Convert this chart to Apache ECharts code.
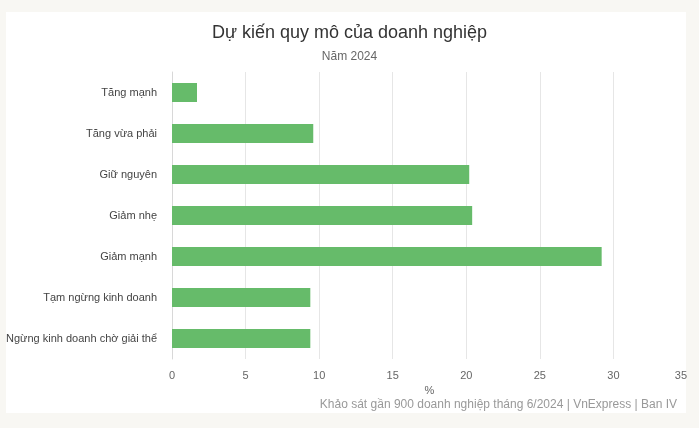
<!DOCTYPE html>
<html>
<head>
<meta charset="utf-8">
<script src="https://cdn.jsdelivr.net/npm/echarts@6/dist/echarts.min.js"></script>
<style>
html,body{margin:0;padding:0;background:#f8f7f3;}
#c{width:699px;height:428px;}
</style>
</head>
<body>
<div id="c"></div>
<script>
const categories = ["Tăng mạnh", "Tăng vừa phải", "Giữ nguyên", "Giảm nhẹ", "Giảm mạnh", "Tạm ngừng kinh doanh", "Ngừng kinh doanh chờ giải thể"];
const values = [1.7, 9.6, 20.2, 20.4, 29.2, 9.4, 9.4];
const titleText = "Dự kiến quy mô của doanh nghiệp";
const subtitleText = "Năm 2024";
const creditText = "Khảo sát gần 900 doanh nghiệp tháng 6/2024 | VnExpress | Ban IV";
const axisName = "%";

const FONT = "'Liberation Sans', Arial, sans-serif";
const chart = echarts.init(document.getElementById('c'), null, {renderer: 'canvas'});
chart.setOption({
  backgroundColor: '#f8f7f3',
  textStyle: {fontFamily: FONT},
  graphic: [{
    type: 'rect', z: -100, zlevel: 0, silent: true,
    shape: {x: 6, y: 12, width: 680, height: 401},
    style: {fill: '#ffffff'}
  }],
  title: [
    {text: titleText, left: 'center', top: 19,
     textStyle: {fontFamily: FONT, fontSize: 18, fontWeight: 'normal', color: '#333333'}},
    {text: subtitleText, left: 'center', top: 46,
     textStyle: {fontFamily: FONT, fontSize: 12, fontWeight: 'normal', color: '#666666'}},
    {text: creditText, right: 17, top: 394,
     textStyle: {fontFamily: FONT, fontSize: 12, fontWeight: 'normal', color: '#999999'}}
  ],
  grid: {left: 172, right: 12, top: 72, bottom: 69, containLabel: false},
  xAxis: {
    type: 'value', min: 0, max: 35, interval: 5,
    name: axisName, nameLocation: 'middle', nameGap: 26,
    nameTextStyle: {fontFamily: FONT, fontSize: 11, color: '#666666'},
    axisLine: {show: false}, axisTick: {show: false},
    axisLabel: {fontFamily: FONT, fontSize: 11, color: '#666666', margin: 11, alignMaxLabel: 'right'},
    splitLine: {show: true, showMaxLine: false, lineStyle: {color: '#e6e6e6', width: 1}}
  },
  yAxis: {
    type: 'category', data: categories, inverse: true,
    axisLine: {show: true, lineStyle: {color: '#d8d8d8', width: 1}},
    axisTick: {show: false},
    axisLabel: {fontFamily: FONT, fontSize: 11, color: '#444444', margin: 15}
  },
  series: [{
    type: 'bar', data: values, barWidth: 19,
    itemStyle: {color: '#66bb6a'},
    emphasis: {disabled: true}
  }],
  animation: false
});
</script>
</body>
</html>
